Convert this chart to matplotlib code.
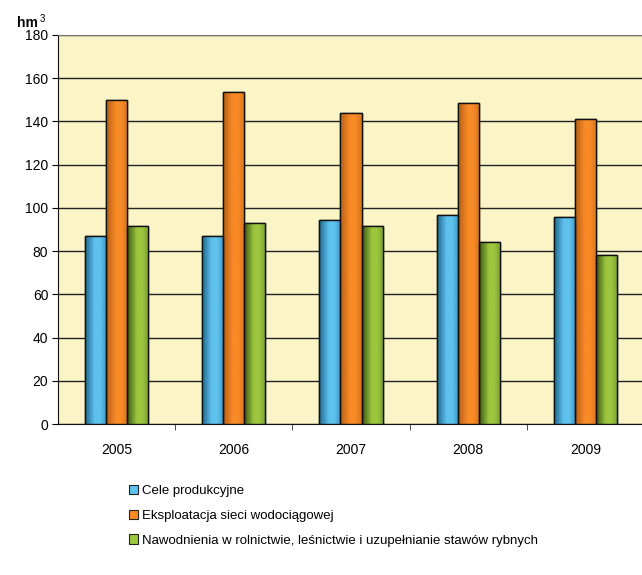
import numpy as np
import matplotlib
matplotlib.use("Agg")
import matplotlib.pyplot as plt
from matplotlib.colors import LinearSegmentedColormap
from matplotlib.patches import Patch

plt.rcParams["font.family"] = ["Liberation Sans", "DejaVu Sans"]

lata = ["2005", "2006", "2007", "2008", "2009"]
cele_produkcyjne = [87, 87, 94.5, 96.5, 96]
siec_wodociagowa = [150, 153.5, 144, 148.5, 141]
nawodnienia = [91.5, 93, 91.5, 84, 78]

# nazwa, wartosci, kolor glowny, lewa krawedz, prawa krawedz
serie = [
    ("Cele produkcyjne", cele_produkcyjne, "#5ec2ee", "#23668e", "#3f98c8"),
    ("Eksploatacja sieci wodociągowej", siec_wodociagowa, "#f88b26", "#b45e17", "#d8731d"),
    ("Nawodnienia w rolnictwie, leśnictwie i uzupełnianie stawów rybnych",
     nawodnienia, "#9cc63e", "#3a5614", "#7a9f30"),
]

fig = plt.figure(figsize=(6.42, 5.75), dpi=100)
ax = fig.add_axes([58 / 642, 1 - 424 / 575, 586 / 642, 389 / 575])
ax.set_facecolor("#faf4c6")

x = np.arange(len(lata))
szer = 0.18
profil = np.linspace(0, 1, 64).reshape(1, -1)

for i, (nazwa, wart, kolor, lewy, prawy) in enumerate(serie):
    pozycje = x + (i - 1) * szer
    slupki = ax.bar(pozycje, wart, width=szer, color=kolor,
                    edgecolor="#111111", linewidth=1.0, zorder=3)
    # cieniowanie walcowe: ciemna lewa krawedz, jasny srodek, przyciemniona prawa
    cmap = LinearSegmentedColormap.from_list(
        "walec", [(0, lewy), (0.45, kolor), (0.7, kolor), (1, prawy)])
    for b in slupki:
        x0, w, h = b.get_x(), b.get_width(), b.get_height()
        im = ax.imshow(profil, cmap=cmap, aspect="auto", vmin=0, vmax=1,
                       extent=[x0, x0 + w, 0, h], zorder=3.5,
                       interpolation="bilinear")
        im.set_clip_path(b)
        ax.bar(x0 + w / 2, h, width=w, fill=False, edgecolor="#111111",
               linewidth=1.0, zorder=4)

ax.set_xlim(-0.5, 4.5)
ax.set_ylim(0, 180)
ax.set_yticks(range(0, 181, 20))
ax.yaxis.grid(True, color="#222222", linewidth=1.0)
ax.set_axisbelow(True)

ax.set_xticks(x)
ax.set_xticklabels(lata, fontsize=10)
ax.set_xticks(np.arange(0.5, 4.5, 1), minor=True)
ax.tick_params(axis="x", which="major", length=0, pad=14)
ax.tick_params(axis="x", which="minor", length=4, direction="out", color="#333333")
ax.tick_params(axis="y", labelsize=10, length=4, direction="out", pad=3)

ax.spines["right"].set_visible(False)
ax.spines["top"].set_color("#777777")
ax.spines["left"].set_color("#111111")
ax.spines["bottom"].set_color("#111111")

fig.text(17 / 642, 1 - 27 / 575, "hm", fontsize=10, fontweight="bold",
         va="baseline", ha="left")
fig.text(40 / 642, 1 - 22 / 575, "3", fontsize=7, va="baseline", ha="left")

uchwyty = [Patch(facecolor=s[2], edgecolor="#222222", linewidth=0.8)
           for s in serie]
fig.legend(uchwyty, [s[0] for s in serie], loc="upper left",
           bbox_to_anchor=(117 / 642, 1 - 473 / 575), frameon=False,
           fontsize=9.5, handlelength=0.7, handleheight=0.7,
           handletextpad=0.3, labelspacing=0.95)

fig.savefig("out.png", dpi=100)
